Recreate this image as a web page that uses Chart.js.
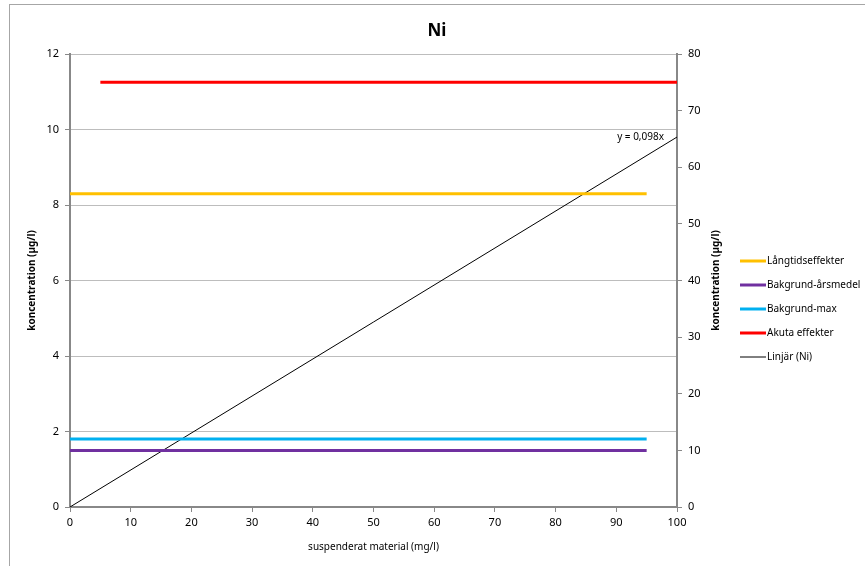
<!DOCTYPE html>
<html>
<head>
<meta charset="utf-8">
<script src="https://cdn.jsdelivr.net/npm/chart.js@4.4.0/dist/chart.umd.min.js"></script>
<style>
  html, body { margin:0; padding:0; background:#fff; }
  #wrap { width:865px; height:566px; }
</style>
</head>
<body>
<div id="wrap"><canvas id="niChart" width="865" height="566"></canvas></div>
<script>
/* ===========================
   DATA
=========================== */
const seriesNames  = ["Långtidseffekter", "Bakgrund-årsmedel", "Bakgrund-max", "Akuta effekter"];
const seriesLevels = [8.3, 1.5, 1.8, 11.25];
const seriesFromX  = [0, 0, 0, 5];
const seriesToX    = [95, 95, 95, 100];
const seriesColors = ["#FFC000", "#7030A0", "#00B0F0", "#FF0000"];

const trendName  = "Linjär (Ni)";
const trendX     = [0, 100];
const trendY     = [0, 9.8];
const trendLabel = "y = 0,098x";

const xTicks  = [0, 10, 20, 30, 40, 50, 60, 70, 80, 90, 100];
const yTicks  = [0, 2, 4, 6, 8, 10, 12];
const y2Ticks = [0, 10, 20, 30, 40, 50, 60, 70, 80];

const FONT = "'Noto Sans', 'DejaVu Sans', sans-serif";

/* ===========================
   DATASETS
=========================== */
const datasets = seriesNames.map((name, i) => ({
    label: name,
    data: [{ x: seriesFromX[i], y: seriesLevels[i] }, { x: seriesToX[i], y: seriesLevels[i] }],
    borderColor: seriesColors[i],
    backgroundColor: seriesColors[i],
    borderWidth: 3,
    pointRadius: 0,
    yAxisID: "y"
}));

datasets.push({
    label: trendName,
    data: trendX.map((x, i) => ({ x: x, y: trendY[i] })),
    borderColor: "#000000",
    backgroundColor: "#000000",
    borderWidth: 1,
    pointRadius: 0,
    yAxisID: "y"
});

/* ===========================
   PLUGIN : frame, title, legend, labels
=========================== */
const extras = {
    id: "extras",
    beforeDraw(chart) {
        const ctx = chart.ctx;
        ctx.save();
        ctx.fillStyle = "#ffffff";
        ctx.fillRect(0, 0, chart.width, chart.height);
        ctx.strokeStyle = "#a6a6a6";
        ctx.lineWidth = 1;
        ctx.strokeRect(9.5, 4.5, 900, 700);
        ctx.restore();
    },
    afterDraw(chart) {
        const ctx = chart.ctx;
        const xs = chart.scales.x;
        const ys = chart.scales.y;
        const area = chart.chartArea;
        ctx.save();

        // title
        ctx.font = "bold 17px " + FONT;
        ctx.fillStyle = "#000";
        ctx.textAlign = "center";
        ctx.textBaseline = "middle";
        ctx.fillText("Ni", 437, 31);

        // trend label
        ctx.font = "10px " + FONT;
        ctx.textAlign = "right";
        ctx.textBaseline = "bottom";
        ctx.fillText(trendLabel, xs.getPixelForValue(100) - 13, ys.getPixelForValue(trendY[1]) + 5);

        // right axis title (reads upward)
        ctx.font = "bold 10px " + FONT;
        ctx.textAlign = "center";
        ctx.textBaseline = "middle";
        ctx.translate(716, (area.top + area.bottom) / 2);
        ctx.rotate(-Math.PI / 2);
        ctx.fillText("koncentration (µg/l)", 0, 0);
        ctx.setTransform(1, 0, 0, 1, 0, 0);

        // legend
        ctx.font = "10px " + FONT;
        ctx.textAlign = "left";
        chart.data.datasets.forEach((ds, i) => {
            const y = 261 + i * 24;
            ctx.strokeStyle = ds.borderColor;
            ctx.lineWidth = ds.borderWidth;
            ctx.beginPath();
            ctx.moveTo(740, y);
            ctx.lineTo(766, y);
            ctx.stroke();
            ctx.fillStyle = "#000";
            ctx.fillText(ds.label, 767, y);
        });

        ctx.restore();
    }
};

/* ===========================
   CHART
=========================== */
new Chart(document.getElementById("niChart"), {
    type: "line",
    data: { datasets: datasets },
    plugins: [extras],
    options: {
        responsive: false,
        animation: false,
        layout: { padding: { left: 10, right: 138, top: 54, bottom: 9 } },
        plugins: {
            legend: { display: false },
            tooltip: { enabled: false },
            title: { display: false }
        },
        scales: {
            x: {
                type: "linear",
                min: 0,
                max: 100,
                afterBuildTicks: (s) => { s.ticks = xTicks.map(v => ({ value: v })); },
                afterFit: (s) => { s.height = 50; },
                grid: { drawOnChartArea: false, tickLength: 5, tickColor: "#888" },
                border: { color: "#888", width: 2 },
                ticks: { color: "#000", font: { family: FONT, size: 11 }, padding: 4, maxRotation: 0 },
                title: {
                    display: true,
                    text: "suspenderat material (mg/l)",
                    color: "#000",
                    font: { family: FONT, size: 10 },
                    padding: { top: 11 }
                }
            },
            y: {
                position: "left",
                min: 0,
                max: 12,
                afterBuildTicks: (s) => { s.ticks = yTicks.map(v => ({ value: v })); },
                afterFit: (s) => { s.width = 60; },
                grid: { color: "#bdbdbd", tickLength: 5, tickColor: "#888" },
                border: { color: "#888", width: 2 },
                ticks: { color: "#000", font: { family: FONT, size: 11 }, padding: 6 },
                title: {
                    display: true,
                    text: "koncentration (µg/l)",
                    color: "#000",
                    font: { family: FONT, size: 10, weight: "bold" },
                    padding: { top: 16, bottom: 0 }
                }
            },
            y2: {
                position: "right",
                min: 0,
                max: 80,
                afterBuildTicks: (s) => { s.ticks = y2Ticks.map(v => ({ value: v })); },
                afterFit: (s) => { s.width = 50; },
                grid: { drawOnChartArea: false, tickLength: 5, tickColor: "#888" },
                border: { color: "#888", width: 2 },
                ticks: { color: "#000", font: { family: FONT, size: 11 }, padding: 6 }
            }
        }
    }
});
</script>
</body>
</html>
